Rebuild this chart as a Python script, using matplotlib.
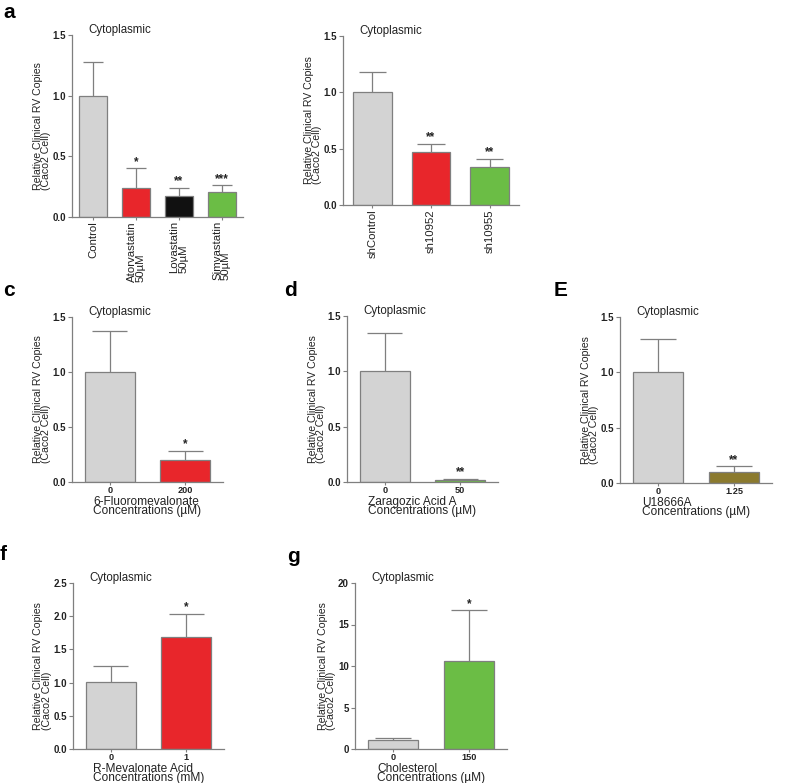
import matplotlib
matplotlib.use("Agg")
import matplotlib.pyplot as plt

plt.rcParams["font.family"] = ["Liberation Sans", "DejaVu Sans"]

W, H = 800, 783
GRAY = "#d3d3d3"
RED = "#e8262b"
BLACK = "#111111"
GREEN = "#6bbd45"
OLIVE = "#8b7a2e"
EDGE = "#7f7f7f"

YLABEL = "Relative Clinical RV Copies\n(Caco2 Cell)"

# panel a: statins
a_labels = ["Control", "Atorvastatin\n50µM", "Lovastatin\n50µM", "Simvastatin\n50µM"]
a_vals = [1.0, 0.24, 0.17, 0.21]
a_errs = [0.28, 0.16, 0.07, 0.05]
a_stars = ["", "*", "**", "***"]

# panel b: shRNA
b_labels = ["shControl", "sh10952", "sh10955"]
b_vals = [1.0, 0.47, 0.335]
b_errs = [0.18, 0.07, 0.075]
b_stars = ["", "**", "**"]

# panel c: 6-fluoromevalonate
c_labels = ["0", "200"]
c_vals = [1.0, 0.20]
c_errs = [0.37, 0.08]
c_stars = ["", "*"]

# panel d: zaragozic acid A
d_labels = ["0", "50"]
d_vals = [1.0, 0.02]
d_errs = [0.35, 0.01]
d_stars = ["", "**"]

# panel E: U18666A
e_labels = ["0", "1.25"]
e_vals = [1.0, 0.10]
e_errs = [0.30, 0.05]
e_stars = ["", "**"]

# panel f: R-mevalonate acid
f_labels = ["0", "1"]
f_vals = [1.01, 1.69]
f_errs = [0.24, 0.34]
f_stars = ["", "*"]

# panel g: cholesterol
g_labels = ["0", "150"]
g_vals = [1.1, 10.6]
g_errs = [0.25, 6.1]
g_stars = ["", "*"]


def px_axes(fig, x1, ytop, x2, ybot):
    return fig.add_axes([x1 / W, (H - ybot) / H, (x2 - x1) / W, (ybot - ytop) / H])


def panel(fig, box, labels, vals, errs, stars, colors, ylim, yticks, ytl,
          xlabel=None, rotated=False, letter=None, letter_xy=None):
    x1, ytop, x2, ybot = box
    ax = px_axes(fig, x1, ytop, x2, ybot)
    n = len(vals)
    xs = list(range(n))
    bw = 0.66
    ax.bar(xs, vals, width=bw, color=colors, edgecolor=EDGE, linewidth=0.9, zorder=2)
    cap = 0.35 * bw
    for x, v, e, s in zip(xs, vals, errs, stars):
        ax.vlines(x, v, v + e, color=EDGE, lw=0.9, zorder=1)
        ax.hlines(v + e, x - cap, x + cap, color=EDGE, lw=0.9, zorder=1)
        if s:
            ax.annotate(s, (x, v + e), xytext=(0, 0.5), textcoords="offset points",
                        ha="center", va="bottom", fontsize=8.5, fontweight="bold",
                        color="#222222")
    ax.set_xlim(-0.5, n - 0.5)
    ax.set_ylim(*ylim)
    ax.set_yticks(yticks)
    ax.set_yticklabels(ytl, fontsize=7, fontweight="bold")
    ax.set_xticks(xs)
    for sp in ("top", "right"):
        ax.spines[sp].set_visible(False)
    for sp in ("left", "bottom"):
        ax.spines[sp].set_color(EDGE)
        ax.spines[sp].set_linewidth(0.9)
    ax.tick_params(axis="y", colors=EDGE, length=3, width=0.8, pad=1.5)
    ax.tick_params(axis="x", colors=EDGE, length=2, width=0.8, pad=1)
    ax.tick_params(axis="both", labelcolor="#222222")
    if rotated:
        ax.set_xticklabels(labels, rotation=90, fontsize=8.2)
        for t in ax.get_xticklabels():
            t.set_multialignment("left")
            t.set_linespacing(0.85)
    else:
        ax.set_xticklabels(labels, fontsize=6.6, fontweight="bold")
    if xlabel:
        ax.set_xlabel(xlabel, fontsize=8.6, labelpad=0.5, linespacing=0.72,
                      multialignment="left", color="#222222")
    ax.set_ylabel(YLABEL, fontsize=7.6, labelpad=1, linespacing=0.78,
                  multialignment="left", color="#222222")
    # title sits just right of the y axis, near the top
    fig.text((x1 + 16) / W, 1 - (ytop - 5) / H, "Cytoplasmic", fontsize=8.3,
             ha="left", va="center", color="#222222")
    if letter:
        fig.text(letter_xy[0] / W, 1 - letter_xy[1] / H, letter, fontsize=15,
                 fontweight="bold", ha="left", va="center")
    return ax


fig = plt.figure(figsize=(8, 7.83), dpi=100)

t15 = [0.0, 0.5, 1.0, 1.5]
t15l = ["0.0", "0.5", "1.0", "1.5"]

panel(fig, (72, 35, 243, 217), a_labels, a_vals, a_errs, a_stars,
      [GRAY, RED, BLACK, GREEN], (0, 1.5), t15, t15l, rotated=True,
      letter="a", letter_xy=(3, 12))
panel(fig, (343, 36, 519, 205), b_labels, b_vals, b_errs, b_stars,
      [GRAY, RED, GREEN], (0, 1.5), t15, t15l, rotated=True)
panel(fig, (72, 317, 223, 482), c_labels, c_vals, c_errs, c_stars,
      [GRAY, RED], (0, 1.5), t15, t15l,
      xlabel="6-Fluoromevalonate\nConcentrations (µM)", letter="c", letter_xy=(3, 290))
panel(fig, (347, 316, 498, 482), d_labels, d_vals, d_errs, d_stars,
      [GRAY, GREEN], (0, 1.5), t15, t15l,
      xlabel="Zaragozic Acid A\nConcentrations (µM)", letter="d", letter_xy=(284, 290))
panel(fig, (620, 317, 772, 483), e_labels, e_vals, e_errs, e_stars,
      [GRAY, OLIVE], (0, 1.5), t15, t15l,
      xlabel="U18666A\nConcentrations (µM)", letter="E", letter_xy=(554, 290))
panel(fig, (73, 583, 224, 749), f_labels, f_vals, f_errs, f_stars,
      [GRAY, RED], (0, 2.5), [0, 0.5, 1.0, 1.5, 2.0, 2.5],
      ["0.0", "0.5", "1.0", "1.5", "2.0", "2.5"],
      xlabel="R-Mevalonate Acid\nConcentrations (mM)", letter="f", letter_xy=(0, 555))
panel(fig, (355, 583, 507, 749), g_labels, g_vals, g_errs, g_stars,
      [GRAY, GREEN], (0, 20), [0, 5, 10, 15, 20], ["0", "5", "10", "15", "20"],
      xlabel="Cholesterol\nConcentrations (µM)", letter="g", letter_xy=(287, 557))

fig.savefig("out.png", dpi=100)
